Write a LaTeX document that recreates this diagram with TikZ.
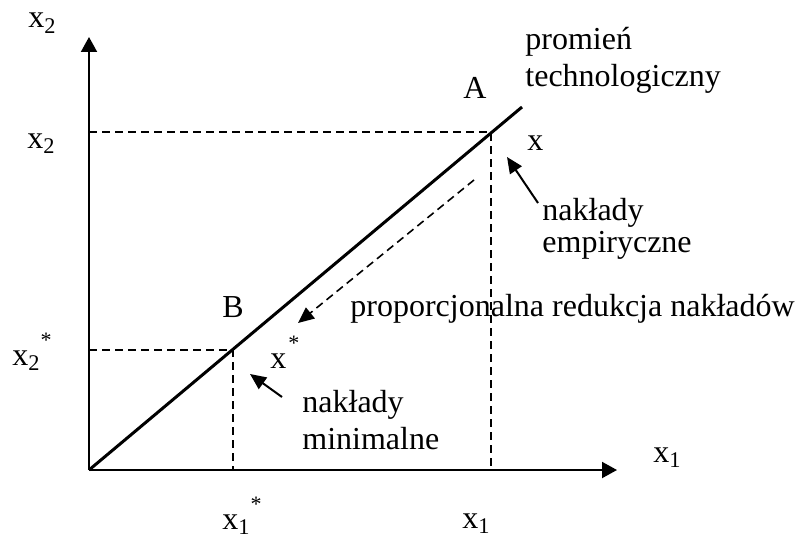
\documentclass[tikz,border=0pt]{standalone}
\usepackage{fontspec}
\setmainfont{Liberation Serif}
\usetikzlibrary{arrows.meta}
\newcommand{\myast}{\raisebox{0.55em}{\fontsize{11}{11}\selectfont *}}
\begin{document}
\begin{tikzpicture}[x=0.5pt,y=-0.5pt,
  lbl/.style={anchor=base west,inner sep=0pt,font=\fontsize{16}{18}\selectfont},
  axis/.style={line width=1pt,-{Triangle[length=7.5pt,width=8pt]}},
  ray/.style={line width=1.5pt},
  guide/.style={line width=0.8pt,dash pattern=on 4pt off 2.5pt},
  ptr/.style={line width=1pt,-{Triangle[length=8pt,width=7pt]}},
  dptr/.style={line width=0.8pt,dash pattern=on 4pt off 2.5pt,-{Triangle[length=8pt,width=7pt]}}]
\useasboundingbox (0,0) rectangle (796,540);
% key points
\coordinate (O) at (89,470);
\coordinate (Y) at (89,37);
\coordinate (X) at (617,470);
\coordinate (R) at (522,107);
\coordinate (A) at (491,132);
\coordinate (B) at (233,350);
\coordinate (Ay) at (89,132);
\coordinate (Ax) at (491,470);
\coordinate (By) at (89,350);
\coordinate (Bx) at (233,470);
% guides
\draw[guide] (Ay) -- (A) -- (Ax);
\draw[guide] (By) -- (B) -- (Bx);
% axes
\draw[axis] (O) -- (Y);
\draw[axis] (O) -- (X);
% ray
\draw[ray] (O) -- (R);
% labels
\node[lbl] (ly) at (28,28) {x\textsubscript{2}};
\node[lbl] (lx) at (653,462) {x\textsubscript{1}};
\node[lbl] (lx2) at (27,148) {x\textsubscript{2}};
\node[lbl] (lx2s) at (12,365) {x\textsubscript{2}\myast};
\node[lbl] (lx1s) at (222,529) {x\textsubscript{1}\myast};
\node[lbl] (lx1) at (462,528) {x\textsubscript{1}};
\node[lbl] (lA) at (463,98) {A};
\node[lbl] (lB) at (222,317) {B};
\node[lbl] (lxe) at (527,150) {x};
\node[lbl] (lxs) at (270,368) {x\kern1pt\myast};
\node[lbl] (prom1) at (525,50) {promień};
\node[lbl] (prom2) at (525,87) {technologiczny};
\node[lbl] (emp1) at (542,220) {nakłady};
\node[lbl] (emp2) at (542,252) {empiryczne};
\node[lbl] (red) at (350,316) {proporcjonalna redukcja nakładów};
\node[lbl] (min1) at (302,412) {nakłady};
\node[lbl] (min2) at (302,449) {minimalne};
% pointers
\coordinate (e1) at (538,203);
\coordinate (e2) at (507,157);
\coordinate (m1) at (282,397);
\coordinate (m2) at (250,374);
\coordinate (d1) at (474,180);
\coordinate (d2) at (298,323);
\draw[ptr] (e1) -- (e2);
\draw[ptr] (m1) -- (m2);
\draw[dptr] (d1) -- (d2);
\end{tikzpicture}
\end{document}
